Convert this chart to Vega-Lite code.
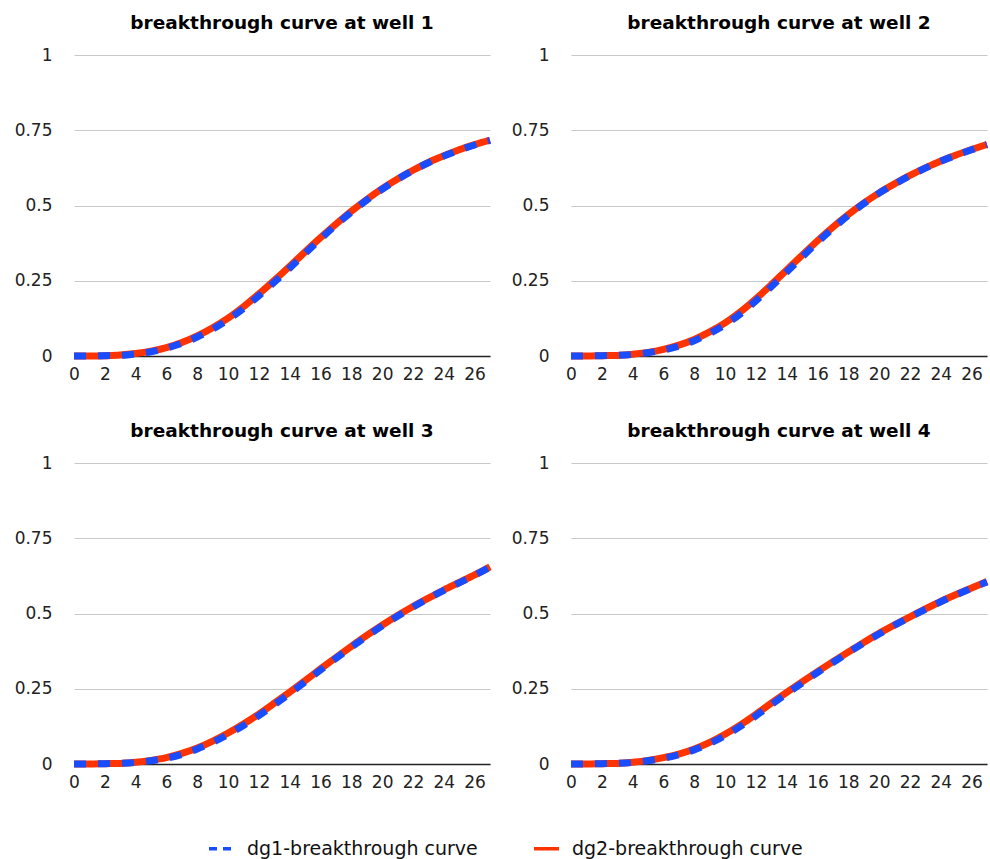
{
  "$schema": "https://vega.github.io/schema/vega-lite/v6.json",
  "padding": {"left": 14, "top": 13, "right": 0, "bottom": 0},
  "background": "white",
  "datasets": {
    "curves": [
      {"well":1,"t":0,"series":"dg2-breakthrough curve","value":0},{"well":1,"t":1,"series":"dg2-breakthrough curve","value":0},{"well":1,"t":2,"series":"dg2-breakthrough curve","value":0.001},{"well":1,"t":3,"series":"dg2-breakthrough curve","value":0.003},{"well":1,"t":4,"series":"dg2-breakthrough curve","value":0.008},{"well":1,"t":5,"series":"dg2-breakthrough curve","value":0.016},{"well":1,"t":6,"series":"dg2-breakthrough curve","value":0.028},{"well":1,"t":7,"series":"dg2-breakthrough curve","value":0.045},{"well":1,"t":8,"series":"dg2-breakthrough curve","value":0.067},{"well":1,"t":9,"series":"dg2-breakthrough curve","value":0.094},{"well":1,"t":10,"series":"dg2-breakthrough curve","value":0.126},{"well":1,"t":11,"series":"dg2-breakthrough curve","value":0.164},{"well":1,"t":12,"series":"dg2-breakthrough curve","value":0.206},{"well":1,"t":13,"series":"dg2-breakthrough curve","value":0.251},{"well":1,"t":14,"series":"dg2-breakthrough curve","value":0.298},{"well":1,"t":15,"series":"dg2-breakthrough curve","value":0.346},{"well":1,"t":16,"series":"dg2-breakthrough curve","value":0.393},{"well":1,"t":17,"series":"dg2-breakthrough curve","value":0.438},{"well":1,"t":18,"series":"dg2-breakthrough curve","value":0.481},{"well":1,"t":19,"series":"dg2-breakthrough curve","value":0.52},{"well":1,"t":20,"series":"dg2-breakthrough curve","value":0.556},{"well":1,"t":21,"series":"dg2-breakthrough curve","value":0.588},{"well":1,"t":22,"series":"dg2-breakthrough curve","value":0.617},{"well":1,"t":23,"series":"dg2-breakthrough curve","value":0.643},{"well":1,"t":24,"series":"dg2-breakthrough curve","value":0.665},{"well":1,"t":25,"series":"dg2-breakthrough curve","value":0.685},{"well":1,"t":26,"series":"dg2-breakthrough curve","value":0.702},{"well":1,"t":27,"series":"dg2-breakthrough curve","value":0.717},
      {"well":1,"t":0,"series":"dg1-breakthrough curve","value":0},{"well":1,"t":1,"series":"dg1-breakthrough curve","value":0},{"well":1,"t":2,"series":"dg1-breakthrough curve","value":0.001},{"well":1,"t":3,"series":"dg1-breakthrough curve","value":0.002},{"well":1,"t":4,"series":"dg1-breakthrough curve","value":0.007},{"well":1,"t":5,"series":"dg1-breakthrough curve","value":0.014},{"well":1,"t":6,"series":"dg1-breakthrough curve","value":0.026},{"well":1,"t":7,"series":"dg1-breakthrough curve","value":0.042},{"well":1,"t":8,"series":"dg1-breakthrough curve","value":0.063},{"well":1,"t":9,"series":"dg1-breakthrough curve","value":0.089},{"well":1,"t":10,"series":"dg1-breakthrough curve","value":0.121},{"well":1,"t":11,"series":"dg1-breakthrough curve","value":0.158},{"well":1,"t":12,"series":"dg1-breakthrough curve","value":0.2},{"well":1,"t":13,"series":"dg1-breakthrough curve","value":0.245},{"well":1,"t":14,"series":"dg1-breakthrough curve","value":0.292},{"well":1,"t":15,"series":"dg1-breakthrough curve","value":0.341},{"well":1,"t":16,"series":"dg1-breakthrough curve","value":0.389},{"well":1,"t":17,"series":"dg1-breakthrough curve","value":0.435},{"well":1,"t":18,"series":"dg1-breakthrough curve","value":0.478},{"well":1,"t":19,"series":"dg1-breakthrough curve","value":0.518},{"well":1,"t":20,"series":"dg1-breakthrough curve","value":0.554},{"well":1,"t":21,"series":"dg1-breakthrough curve","value":0.587},{"well":1,"t":22,"series":"dg1-breakthrough curve","value":0.616},{"well":1,"t":23,"series":"dg1-breakthrough curve","value":0.642},{"well":1,"t":24,"series":"dg1-breakthrough curve","value":0.664},{"well":1,"t":25,"series":"dg1-breakthrough curve","value":0.684},{"well":1,"t":26,"series":"dg1-breakthrough curve","value":0.701},{"well":1,"t":27,"series":"dg1-breakthrough curve","value":0.716},
      {"well":2,"t":0,"series":"dg2-breakthrough curve","value":0},{"well":2,"t":1,"series":"dg2-breakthrough curve","value":0},{"well":2,"t":2,"series":"dg2-breakthrough curve","value":0.001},{"well":2,"t":3,"series":"dg2-breakthrough curve","value":0.002},{"well":2,"t":4,"series":"dg2-breakthrough curve","value":0.006},{"well":2,"t":5,"series":"dg2-breakthrough curve","value":0.012},{"well":2,"t":6,"series":"dg2-breakthrough curve","value":0.022},{"well":2,"t":7,"series":"dg2-breakthrough curve","value":0.036},{"well":2,"t":8,"series":"dg2-breakthrough curve","value":0.055},{"well":2,"t":9,"series":"dg2-breakthrough curve","value":0.08},{"well":2,"t":10,"series":"dg2-breakthrough curve","value":0.11},{"well":2,"t":11,"series":"dg2-breakthrough curve","value":0.147},{"well":2,"t":12,"series":"dg2-breakthrough curve","value":0.19},{"well":2,"t":13,"series":"dg2-breakthrough curve","value":0.237},{"well":2,"t":14,"series":"dg2-breakthrough curve","value":0.286},{"well":2,"t":15,"series":"dg2-breakthrough curve","value":0.335},{"well":2,"t":16,"series":"dg2-breakthrough curve","value":0.383},{"well":2,"t":17,"series":"dg2-breakthrough curve","value":0.428},{"well":2,"t":18,"series":"dg2-breakthrough curve","value":0.47},{"well":2,"t":19,"series":"dg2-breakthrough curve","value":0.508},{"well":2,"t":20,"series":"dg2-breakthrough curve","value":0.542},{"well":2,"t":21,"series":"dg2-breakthrough curve","value":0.572},{"well":2,"t":22,"series":"dg2-breakthrough curve","value":0.6},{"well":2,"t":23,"series":"dg2-breakthrough curve","value":0.625},{"well":2,"t":24,"series":"dg2-breakthrough curve","value":0.648},{"well":2,"t":25,"series":"dg2-breakthrough curve","value":0.668},{"well":2,"t":26,"series":"dg2-breakthrough curve","value":0.686},{"well":2,"t":27,"series":"dg2-breakthrough curve","value":0.703},
      {"well":2,"t":0,"series":"dg1-breakthrough curve","value":0},{"well":2,"t":1,"series":"dg1-breakthrough curve","value":0},{"well":2,"t":2,"series":"dg1-breakthrough curve","value":0.001},{"well":2,"t":3,"series":"dg1-breakthrough curve","value":0.002},{"well":2,"t":4,"series":"dg1-breakthrough curve","value":0.005},{"well":2,"t":5,"series":"dg1-breakthrough curve","value":0.011},{"well":2,"t":6,"series":"dg1-breakthrough curve","value":0.02},{"well":2,"t":7,"series":"dg1-breakthrough curve","value":0.033},{"well":2,"t":8,"series":"dg1-breakthrough curve","value":0.051},{"well":2,"t":9,"series":"dg1-breakthrough curve","value":0.075},{"well":2,"t":10,"series":"dg1-breakthrough curve","value":0.104},{"well":2,"t":11,"series":"dg1-breakthrough curve","value":0.14},{"well":2,"t":12,"series":"dg1-breakthrough curve","value":0.183},{"well":2,"t":13,"series":"dg1-breakthrough curve","value":0.23},{"well":2,"t":14,"series":"dg1-breakthrough curve","value":0.279},{"well":2,"t":15,"series":"dg1-breakthrough curve","value":0.329},{"well":2,"t":16,"series":"dg1-breakthrough curve","value":0.378},{"well":2,"t":17,"series":"dg1-breakthrough curve","value":0.424},{"well":2,"t":18,"series":"dg1-breakthrough curve","value":0.467},{"well":2,"t":19,"series":"dg1-breakthrough curve","value":0.506},{"well":2,"t":20,"series":"dg1-breakthrough curve","value":0.541},{"well":2,"t":21,"series":"dg1-breakthrough curve","value":0.571},{"well":2,"t":22,"series":"dg1-breakthrough curve","value":0.599},{"well":2,"t":23,"series":"dg1-breakthrough curve","value":0.624},{"well":2,"t":24,"series":"dg1-breakthrough curve","value":0.647},{"well":2,"t":25,"series":"dg1-breakthrough curve","value":0.667},{"well":2,"t":26,"series":"dg1-breakthrough curve","value":0.685},{"well":2,"t":27,"series":"dg1-breakthrough curve","value":0.702},
      {"well":3,"t":0,"series":"dg2-breakthrough curve","value":0},{"well":3,"t":1,"series":"dg2-breakthrough curve","value":0},{"well":3,"t":2,"series":"dg2-breakthrough curve","value":0.001},{"well":3,"t":3,"series":"dg2-breakthrough curve","value":0.002},{"well":3,"t":4,"series":"dg2-breakthrough curve","value":0.006},{"well":3,"t":5,"series":"dg2-breakthrough curve","value":0.012},{"well":3,"t":6,"series":"dg2-breakthrough curve","value":0.021},{"well":3,"t":7,"series":"dg2-breakthrough curve","value":0.035},{"well":3,"t":8,"series":"dg2-breakthrough curve","value":0.053},{"well":3,"t":9,"series":"dg2-breakthrough curve","value":0.076},{"well":3,"t":10,"series":"dg2-breakthrough curve","value":0.103},{"well":3,"t":11,"series":"dg2-breakthrough curve","value":0.133},{"well":3,"t":12,"series":"dg2-breakthrough curve","value":0.166},{"well":3,"t":13,"series":"dg2-breakthrough curve","value":0.202},{"well":3,"t":14,"series":"dg2-breakthrough curve","value":0.239},{"well":3,"t":15,"series":"dg2-breakthrough curve","value":0.277},{"well":3,"t":16,"series":"dg2-breakthrough curve","value":0.316},{"well":3,"t":17,"series":"dg2-breakthrough curve","value":0.354},{"well":3,"t":18,"series":"dg2-breakthrough curve","value":0.391},{"well":3,"t":19,"series":"dg2-breakthrough curve","value":0.427},{"well":3,"t":20,"series":"dg2-breakthrough curve","value":0.461},{"well":3,"t":21,"series":"dg2-breakthrough curve","value":0.493},{"well":3,"t":22,"series":"dg2-breakthrough curve","value":0.523},{"well":3,"t":23,"series":"dg2-breakthrough curve","value":0.551},{"well":3,"t":24,"series":"dg2-breakthrough curve","value":0.578},{"well":3,"t":25,"series":"dg2-breakthrough curve","value":0.603},{"well":3,"t":26,"series":"dg2-breakthrough curve","value":0.628},{"well":3,"t":27,"series":"dg2-breakthrough curve","value":0.655},
      {"well":3,"t":0,"series":"dg1-breakthrough curve","value":0},{"well":3,"t":1,"series":"dg1-breakthrough curve","value":0},{"well":3,"t":2,"series":"dg1-breakthrough curve","value":0.001},{"well":3,"t":3,"series":"dg1-breakthrough curve","value":0.002},{"well":3,"t":4,"series":"dg1-breakthrough curve","value":0.005},{"well":3,"t":5,"series":"dg1-breakthrough curve","value":0.011},{"well":3,"t":6,"series":"dg1-breakthrough curve","value":0.019},{"well":3,"t":7,"series":"dg1-breakthrough curve","value":0.032},{"well":3,"t":8,"series":"dg1-breakthrough curve","value":0.05},{"well":3,"t":9,"series":"dg1-breakthrough curve","value":0.072},{"well":3,"t":10,"series":"dg1-breakthrough curve","value":0.098},{"well":3,"t":11,"series":"dg1-breakthrough curve","value":0.128},{"well":3,"t":12,"series":"dg1-breakthrough curve","value":0.161},{"well":3,"t":13,"series":"dg1-breakthrough curve","value":0.197},{"well":3,"t":14,"series":"dg1-breakthrough curve","value":0.234},{"well":3,"t":15,"series":"dg1-breakthrough curve","value":0.273},{"well":3,"t":16,"series":"dg1-breakthrough curve","value":0.312},{"well":3,"t":17,"series":"dg1-breakthrough curve","value":0.351},{"well":3,"t":18,"series":"dg1-breakthrough curve","value":0.388},{"well":3,"t":19,"series":"dg1-breakthrough curve","value":0.424},{"well":3,"t":20,"series":"dg1-breakthrough curve","value":0.459},{"well":3,"t":21,"series":"dg1-breakthrough curve","value":0.491},{"well":3,"t":22,"series":"dg1-breakthrough curve","value":0.521},{"well":3,"t":23,"series":"dg1-breakthrough curve","value":0.55},{"well":3,"t":24,"series":"dg1-breakthrough curve","value":0.577},{"well":3,"t":25,"series":"dg1-breakthrough curve","value":0.602},{"well":3,"t":26,"series":"dg1-breakthrough curve","value":0.627},{"well":3,"t":27,"series":"dg1-breakthrough curve","value":0.654},
      {"well":4,"t":0,"series":"dg2-breakthrough curve","value":0},{"well":4,"t":1,"series":"dg2-breakthrough curve","value":0},{"well":4,"t":2,"series":"dg2-breakthrough curve","value":0.001},{"well":4,"t":3,"series":"dg2-breakthrough curve","value":0.002},{"well":4,"t":4,"series":"dg2-breakthrough curve","value":0.006},{"well":4,"t":5,"series":"dg2-breakthrough curve","value":0.012},{"well":4,"t":6,"series":"dg2-breakthrough curve","value":0.021},{"well":4,"t":7,"series":"dg2-breakthrough curve","value":0.033},{"well":4,"t":8,"series":"dg2-breakthrough curve","value":0.05},{"well":4,"t":9,"series":"dg2-breakthrough curve","value":0.072},{"well":4,"t":10,"series":"dg2-breakthrough curve","value":0.099},{"well":4,"t":11,"series":"dg2-breakthrough curve","value":0.13},{"well":4,"t":12,"series":"dg2-breakthrough curve","value":0.165},{"well":4,"t":13,"series":"dg2-breakthrough curve","value":0.202},{"well":4,"t":14,"series":"dg2-breakthrough curve","value":0.238},{"well":4,"t":15,"series":"dg2-breakthrough curve","value":0.273},{"well":4,"t":16,"series":"dg2-breakthrough curve","value":0.307},{"well":4,"t":17,"series":"dg2-breakthrough curve","value":0.34},{"well":4,"t":18,"series":"dg2-breakthrough curve","value":0.372},{"well":4,"t":19,"series":"dg2-breakthrough curve","value":0.404},{"well":4,"t":20,"series":"dg2-breakthrough curve","value":0.434},{"well":4,"t":21,"series":"dg2-breakthrough curve","value":0.462},{"well":4,"t":22,"series":"dg2-breakthrough curve","value":0.489},{"well":4,"t":23,"series":"dg2-breakthrough curve","value":0.515},{"well":4,"t":24,"series":"dg2-breakthrough curve","value":0.54},{"well":4,"t":25,"series":"dg2-breakthrough curve","value":0.563},{"well":4,"t":26,"series":"dg2-breakthrough curve","value":0.585},{"well":4,"t":27,"series":"dg2-breakthrough curve","value":0.606},
      {"well":4,"t":0,"series":"dg1-breakthrough curve","value":0},{"well":4,"t":1,"series":"dg1-breakthrough curve","value":0},{"well":4,"t":2,"series":"dg1-breakthrough curve","value":0.001},{"well":4,"t":3,"series":"dg1-breakthrough curve","value":0.002},{"well":4,"t":4,"series":"dg1-breakthrough curve","value":0.005},{"well":4,"t":5,"series":"dg1-breakthrough curve","value":0.011},{"well":4,"t":6,"series":"dg1-breakthrough curve","value":0.019},{"well":4,"t":7,"series":"dg1-breakthrough curve","value":0.031},{"well":4,"t":8,"series":"dg1-breakthrough curve","value":0.047},{"well":4,"t":9,"series":"dg1-breakthrough curve","value":0.068},{"well":4,"t":10,"series":"dg1-breakthrough curve","value":0.094},{"well":4,"t":11,"series":"dg1-breakthrough curve","value":0.125},{"well":4,"t":12,"series":"dg1-breakthrough curve","value":0.16},{"well":4,"t":13,"series":"dg1-breakthrough curve","value":0.197},{"well":4,"t":14,"series":"dg1-breakthrough curve","value":0.234},{"well":4,"t":15,"series":"dg1-breakthrough curve","value":0.269},{"well":4,"t":16,"series":"dg1-breakthrough curve","value":0.304},{"well":4,"t":17,"series":"dg1-breakthrough curve","value":0.337},{"well":4,"t":18,"series":"dg1-breakthrough curve","value":0.37},{"well":4,"t":19,"series":"dg1-breakthrough curve","value":0.402},{"well":4,"t":20,"series":"dg1-breakthrough curve","value":0.432},{"well":4,"t":21,"series":"dg1-breakthrough curve","value":0.461},{"well":4,"t":22,"series":"dg1-breakthrough curve","value":0.488},{"well":4,"t":23,"series":"dg1-breakthrough curve","value":0.514},{"well":4,"t":24,"series":"dg1-breakthrough curve","value":0.539},{"well":4,"t":25,"series":"dg1-breakthrough curve","value":0.562},{"well":4,"t":26,"series":"dg1-breakthrough curve","value":0.584},{"well":4,"t":27,"series":"dg1-breakthrough curve","value":0.605}
    ]
  },
  "data": {"name": "curves"},
  "columns": 2,
  "spacing": {"column": 7, "row": 39},
  "concat": [
    {
      "title": "breakthrough curve at well 1",
      "width": 416, "height": 301,
      "transform": [{"filter": "datum.well === 1"}],
      "encoding": {
        "x": {"field": "t", "type": "quantitative", "scale": {"domain": [0, 27], "nice": false}, "axis": {"values": [0, 2, 4, 6, 8, 10, 12, 14, 16, 18, 20, 22, 24, 26], "format": "d"}},
        "y": {"field": "value", "type": "quantitative", "scale": {"domain": [0, 1], "nice": false}, "axis": {"values": [0, 0.25, 0.5, 0.75, 1], "format": ".2~f"}},
        "color": {"field": "series", "type": "nominal", "legend": {"orient": "none", "legendX": 133, "legendY": 779, "direction": "horizontal", "title": null, "encode": {"symbols": {"update": {"strokeDash": {"signal": "datum.value === 'dg1-breakthrough curve' ? [8, 6] : [1, 0]"}}}}}}
      },
      "layer": [
        {"transform": [{"filter": "datum.series === 'dg2-breakthrough curve'"}], "mark": {"type": "line", "strokeWidth": 7, "interpolate": "monotone"}},
        {"transform": [{"filter": "datum.series === 'dg1-breakthrough curve'"}], "mark": {"type": "line", "strokeWidth": 7, "strokeDash": [12, 12], "interpolate": "monotone"}}
      ]
    },
    {
      "title": "breakthrough curve at well 2",
      "width": 416, "height": 301,
      "transform": [{"filter": "datum.well === 2"}],
      "encoding": {
        "x": {"field": "t", "type": "quantitative", "scale": {"domain": [0, 27], "nice": false}, "axis": {"values": [0, 2, 4, 6, 8, 10, 12, 14, 16, 18, 20, 22, 24, 26], "format": "d"}},
        "y": {"field": "value", "type": "quantitative", "scale": {"domain": [0, 1], "nice": false}, "axis": {"values": [0, 0.25, 0.5, 0.75, 1], "format": ".2~f"}},
        "color": {"field": "series", "type": "nominal"}
      },
      "layer": [
        {"transform": [{"filter": "datum.series === 'dg2-breakthrough curve'"}], "mark": {"type": "line", "strokeWidth": 7, "interpolate": "monotone"}},
        {"transform": [{"filter": "datum.series === 'dg1-breakthrough curve'"}], "mark": {"type": "line", "strokeWidth": 7, "strokeDash": [12, 12], "interpolate": "monotone"}}
      ]
    },
    {
      "title": "breakthrough curve at well 3",
      "width": 416, "height": 301,
      "transform": [{"filter": "datum.well === 3"}],
      "encoding": {
        "x": {"field": "t", "type": "quantitative", "scale": {"domain": [0, 27], "nice": false}, "axis": {"values": [0, 2, 4, 6, 8, 10, 12, 14, 16, 18, 20, 22, 24, 26], "format": "d"}},
        "y": {"field": "value", "type": "quantitative", "scale": {"domain": [0, 1], "nice": false}, "axis": {"values": [0, 0.25, 0.5, 0.75, 1], "format": ".2~f"}},
        "color": {"field": "series", "type": "nominal"}
      },
      "layer": [
        {"transform": [{"filter": "datum.series === 'dg2-breakthrough curve'"}], "mark": {"type": "line", "strokeWidth": 7, "interpolate": "monotone"}},
        {"transform": [{"filter": "datum.series === 'dg1-breakthrough curve'"}], "mark": {"type": "line", "strokeWidth": 7, "strokeDash": [12, 12], "interpolate": "monotone"}}
      ]
    },
    {
      "title": "breakthrough curve at well 4",
      "width": 416, "height": 301,
      "transform": [{"filter": "datum.well === 4"}],
      "encoding": {
        "x": {"field": "t", "type": "quantitative", "scale": {"domain": [0, 27], "nice": false}, "axis": {"values": [0, 2, 4, 6, 8, 10, 12, 14, 16, 18, 20, 22, 24, 26], "format": "d"}},
        "y": {"field": "value", "type": "quantitative", "scale": {"domain": [0, 1], "nice": false}, "axis": {"values": [0, 0.25, 0.5, 0.75, 1], "format": ".2~f"}},
        "color": {"field": "series", "type": "nominal"}
      },
      "layer": [
        {"transform": [{"filter": "datum.series === 'dg2-breakthrough curve'"}], "mark": {"type": "line", "strokeWidth": 7, "interpolate": "monotone"}},
        {"transform": [{"filter": "datum.series === 'dg1-breakthrough curve'"}], "mark": {"type": "line", "strokeWidth": 7, "strokeDash": [12, 12], "interpolate": "monotone"}}
      ]
    }
  ],
  "resolve": {"scale": {"color": "shared"}},
  "config": {
    "view": {"stroke": null},
    "font": "DejaVu Sans",
    "title": {"font": "DejaVu Sans", "fontSize": 18.5, "fontWeight": "bold", "color": "#000000", "offset": 14, "anchor": "middle"},
    "range": {"category": ["#1a4cff", "#ff3300"]},
    "axisX": {
      "title": null, "domain": true, "domainColor": "#222222", "domainWidth": 1.5, "grid": false, "ticks": false, "tickSize": 0,
      "labelPadding": 10, "labelFontSize": 17, "labelColor": "#222222", "labelFont": "DejaVu Sans", "labelFlush": false, "labelOverlap": false
    },
    "axisY": {
      "title": null, "domain": false, "grid": true, "gridColor": "#c8c8c8", "gridWidth": 1.2, "ticks": false, "tickSize": 0,
      "labelPadding": 22, "labelFontSize": 17, "labelColor": "#222222", "labelFont": "DejaVu Sans", "minExtent": 60, "maxExtent": 60
    },
    "legend": {
      "labelFontSize": 19, "labelFont": "DejaVu Sans", "labelColor": "#111111", "labelOffset": 11, "labelLimit": 400,
      "symbolType": "stroke", "symbolSize": 625, "symbolStrokeWidth": 3.5, "columnPadding": 49, "padding": 0
    },
    "line": {"strokeCap": "butt"}
  }
}
